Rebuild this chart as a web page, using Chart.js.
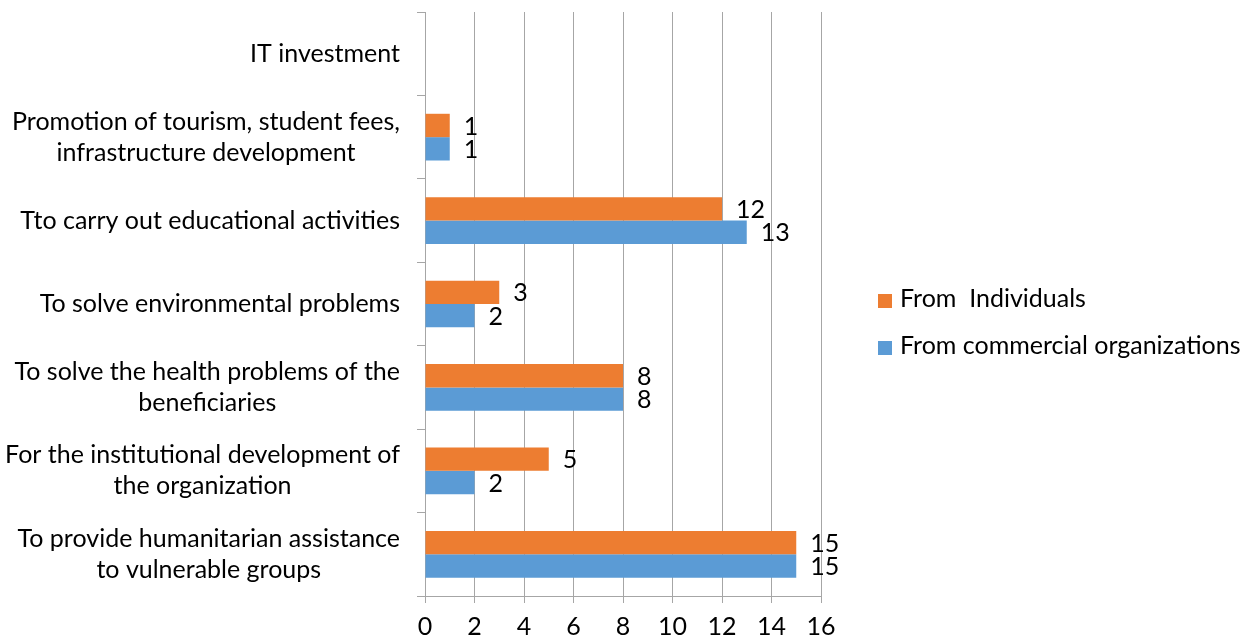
<!DOCTYPE html>
<html>
<head>
<meta charset="utf-8">
<script src="https://cdn.jsdelivr.net/npm/chart.js@4/dist/chart.umd.min.js"></script>
<style>
  html, body { margin: 0; padding: 0; background: #fff; }
  #wrap { width: 1252px; height: 640px; position: relative; }
</style>
</head>
<body>
<div id="wrap"><canvas id="barChart"></canvas></div>
<script>
const categories = [
    ['IT investment'],
    ['Promotion of tourism, student fees,', 'infrastructure development'],
    ['Tto carry out educational activities'],
    ['To solve environmental problems'],
    ['To solve the health problems of the', 'beneficiaries'],
    ['For the institutional development of', 'the organization'],
    ['To provide humanitarian assistance', 'to vulnerable groups']
];
const fromIndividuals = [null, 1, 12, 3, 8, 5, 15];
const fromCommercial = [null, 1, 13, 2, 8, 2, 15];
const seriesNames = ['From  Individuals', 'From commercial organizations'];
const xTicks = [0, 2, 4, 6, 8, 10, 12, 14, 16];

const FONT = 'Lato';
const FONT_SIZE = 25;
const gridColor = '#a6a6a6';

// value labels at the end of each bar
const barValues = {
    id: 'barValues',
    afterDatasetsDraw(chart) {
        const ctx = chart.ctx;
        ctx.save();
        ctx.font = `${FONT_SIZE}px ${FONT}`;
        ctx.fillStyle = '#000';
        ctx.textAlign = 'left';
        ctx.textBaseline = 'middle';
        chart.data.datasets.forEach((ds, i) => {
            chart.getDatasetMeta(i).data.forEach((bar, j) => {
                const v = ds.data[j];
                if (v === null) return;
                ctx.fillText(String(v), bar.x + 14, bar.y + 1);
            });
        });
        ctx.restore();
    }
};

// category labels: right aligned block, lines centred inside it (Excel style)
const categoryLabels = {
    id: 'categoryLabels',
    afterDraw(chart) {
        const ctx = chart.ctx;
        const yScale = chart.scales.y;
        const rightEdge = chart.chartArea.left - 25;
        const lineH = 31;
        ctx.save();
        ctx.font = `${FONT_SIZE}px ${FONT}`;
        ctx.fillStyle = '#000';
        ctx.textAlign = 'center';
        ctx.textBaseline = 'middle';
        chart.data.labels.forEach((lines, j) => {
            const cy = yScale.getPixelForValue(j);
            const w = Math.max(...lines.map(l => ctx.measureText(l).width));
            const cx = rightEdge - w / 2;
            lines.forEach((l, k) => {
                ctx.fillText(l, cx, cy + (k - (lines.length - 1) / 2) * lineH);
            });
        });
        ctx.restore();
    }
};

// legend on the right
const sideLegend = {
    id: 'sideLegend',
    afterDraw(chart) {
        const ctx = chart.ctx;
        const rows = [299, 346];
        ctx.save();
        ctx.font = `${FONT_SIZE}px ${FONT}`;
        ctx.textAlign = 'left';
        ctx.textBaseline = 'middle';
        chart.data.datasets.forEach((ds, i) => {
            ctx.fillStyle = ds.backgroundColor;
            ctx.fillRect(878, rows[i] - 7 + 2, 14, 14);
            ctx.fillStyle = '#000';
            ctx.fillText(ds.label, 900, rows[i]);
        });
        ctx.restore();
    }
};

const ctx = document.getElementById('barChart').getContext('2d');
const barChart = new Chart(ctx, {
    type: 'bar',
    data: {
        labels: categories,
        datasets: [
            {
                label: seriesNames[0],
                data: fromIndividuals,
                backgroundColor: '#ED7D31',
                categoryPercentage: 0.56,
                barPercentage: 1
            },
            {
                label: seriesNames[1],
                data: fromCommercial,
                backgroundColor: '#5B9BD5',
                categoryPercentage: 0.56,
                barPercentage: 1
            }
        ]
    },
    options: {
        responsive: true,
        maintainAspectRatio: false,
        animation: false,
        indexAxis: 'y',
        layout: {
            padding: { top: 12, right: 431, bottom: 0, left: 0 }
        },
        scales: {
            x: {
                position: 'bottom',
                min: 0,
                max: 16,
                afterBuildTicks: scale => {
                    scale.ticks = xTicks.map(v => ({ value: v }));
                },
                afterFit: scale => { scale.height = 44; },
                grid: { color: gridColor, tickLength: 7, lineWidth: 1 },
                border: { color: gridColor },
                ticks: {
                    color: '#000',
                    padding: 9,
                    font: { family: FONT, size: FONT_SIZE }
                }
            },
            y: {
                afterFit: scale => { scale.width = 425; },
                grid: {
                    drawOnChartArea: false,
                    color: gridColor,
                    tickLength: 8,
                    offset: true
                },
                border: { color: gridColor },
                ticks: { display: false }
            }
        },
        plugins: {
            legend: { display: false },
            tooltip: { enabled: false }
        }
    },
    plugins: [barValues, categoryLabels, sideLegend]
});
</script>
</body>
</html>
